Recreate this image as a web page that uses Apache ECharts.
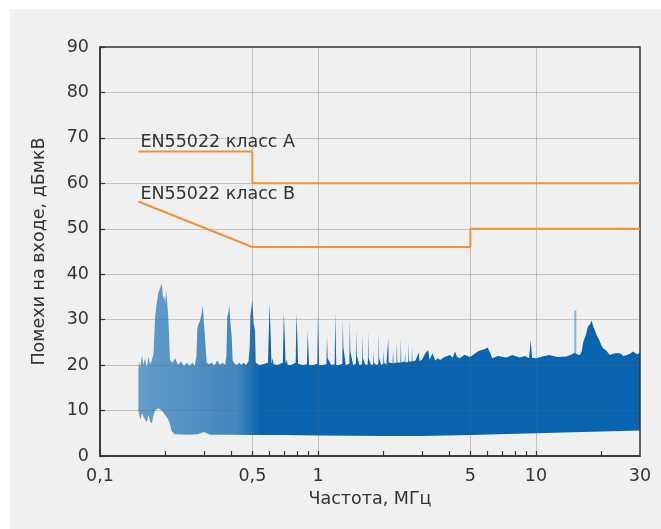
<!DOCTYPE html>
<html>
<head>
<meta charset="utf-8">
<script src="https://cdn.jsdelivr.net/npm/echarts@6/dist/echarts.min.js"></script>
<style>html,body{margin:0;padding:0;background:#fff}#c{width:661px;height:529px}</style>
</head>
<body>
<div id="c"></div>
<script>
// ---- data ----
const xTickLabels = [0.1, 0.5, 1, 5, 10, 30];
const xMinorTicks = [0.2, 0.3, 0.4, 0.5, 0.6, 0.7, 0.8, 0.9, 1, 2, 3, 4, 5, 6, 7, 8, 9, 10, 20];
const xGridValues = [0.5, 1, 5, 10];
const yGridValues = [10, 20, 30, 40, 50, 60, 70, 80];

const classAFreq = [0.15, 0.5, 0.5, 30];
const classALevel = [67, 67, 60, 60];
const classBFreq = [0.15, 0.5, 5, 5, 30];
const classBLevel = [56, 46, 46, 50, 50];

const noiseTopFreq = [
  0.150, 0.151, 0.153, 0.156, 0.158, 0.161, 0.164, 0.167, 0.170, 0.173, 0.176,
  0.179, 0.182, 0.185, 0.189, 0.192, 0.195, 0.197, 0.199, 0.201, 0.204, 0.206, 0.2095,
  0.215, 0.221, 0.228, 0.235, 0.243, 0.250, 0.258, 0.265, 0.272, 0.277,
  0.2795, 0.283, 0.287, 0.292, 0.296, 0.299, 0.303, 0.306, 0.309,
  0.317, 0.325, 0.335, 0.345, 0.355, 0.365, 0.375, 0.380,
  0.3836, 0.388, 0.392, 0.397, 0.402, 0.406,
  0.415, 0.425, 0.435, 0.445, 0.455, 0.468, 0.480,
  0.486, 0.490, 0.4995, 0.507, 0.514, 0.518,
  0.54, 0.57, 0.590, 0.597, 0.600, 0.605, 0.612, 0.620, 0.625,
  0.65, 0.690, 0.697, 0.703, 0.710, 0.720, 0.725,
  0.75, 0.790, 0.797, 0.803, 0.810,
  0.85, 0.890, 0.897, 0.903, 0.910,
  0.95, 0.993, 1.000, 1.007, 1.012,
  1.05, 1.093, 1.100, 1.107,
  1.15, 1.193, 1.200, 1.207, 1.213,
  1.25, 1.293, 1.300, 1.307,
  1.34, 1.393, 1.400, 1.407,
  1.45, 1.493, 1.500, 1.507,
  1.55, 1.593, 1.600, 1.607,
  1.65, 1.693, 1.700, 1.707,
  1.75, 1.793, 1.800, 1.807,
  1.85, 1.893, 1.900, 1.907,
  1.95, 1.993, 2.000, 2.01,
  2.06, 2.10, 2.11, 2.20, 2.21, 2.22, 2.29, 2.30, 2.31, 2.39, 2.40, 2.41,
  2.50, 2.51, 2.52, 2.59, 2.60, 2.61, 2.69, 2.70, 2.71,
  2.80, 2.90, 2.92, 3.00, 3.10, 3.20, 3.25, 3.35, 3.45, 3.55, 3.63,
  3.80, 4.03, 4.15, 4.25, 4.35, 4.48, 4.70, 4.98, 5.20, 5.40, 5.53, 5.80, 6.00,
  6.15, 6.30, 6.70, 7.30, 7.80, 8.40, 8.90, 9.30, 9.45, 9.60, 10.0,
  10.7, 11.5, 12.5, 13.8, 14.5, 15.0, 15.6, 15.9, 16.2, 16.5, 16.9, 17.3, 17.7,
  18.0, 18.3, 18.6, 19.0, 19.5, 19.9, 20.3, 21.0, 21.8, 23.0, 24.3, 25.2, 26.1,
  27.0, 27.9, 29.0, 30.0
];
const noiseTopLevel = [
  19.0, 21.0, 19.5, 22.2, 20.0, 21.5, 19.5, 21.8, 20.2, 21.1, 22.5,
  30.7, 33.5, 35.8, 37.0, 38.0, 34.5, 35.4, 33.5, 36.5, 33.0, 29.9, 21.1,
  20.5, 21.5, 20.0, 20.8, 19.8, 20.5, 19.8, 20.6, 19.8, 22.0,
  28.0, 29.0, 29.6, 31.0, 33.2, 30.0, 26.3, 23.0, 20.5,
  20.2, 20.6, 19.9, 21.0, 20.0, 20.5, 20.0, 22.0,
  30.7, 31.5, 33.2, 29.0, 26.3, 21.0,
  20.3, 20.0, 20.6, 20.0, 20.5, 20.0, 20.8,
  24.0, 31.0, 34.3, 29.0, 27.7, 20.5,
  20.0, 20.3, 20.5, 30.0, 33.8, 28.0, 20.3, 21.5, 20.2,
  20.0, 20.5, 31.5, 27.0, 20.3, 21.2, 20.1,
  20.0, 20.5, 31.5, 27.0, 20.3,
  20.0, 20.2, 27.4, 24.0, 20.0,
  20.0, 20.3, 31.4, 25.0, 20.0,
  20.0, 20.2, 26.6, 21.5,
  20.0, 20.2, 31.5, 25.0, 20.0,
  20.0, 20.3, 29.9, 24.0,
  20.0, 20.3, 30.1, 23.0,
  20.0, 20.3, 27.7, 22.0,
  20.0, 20.2, 26.6, 21.5,
  20.0, 20.2, 27.4, 21.5,
  20.0, 20.2, 23.3, 20.5,
  20.0, 20.2, 27.4, 21.5,
  20.0, 20.3, 23.3, 20.5,
  20.1, 25.9, 20.6, 20.4, 23.5, 20.4, 20.5, 25.2, 20.6, 20.6, 25.9, 20.6,
  20.8, 23.0, 20.6, 20.7, 25.2, 20.8, 20.8, 24.4, 20.8,
  21.0, 22.8, 20.9, 21.2, 22.5, 23.3, 21.2, 22.6, 21.0, 21.5, 21.1,
  21.8, 22.2, 21.6, 23.0, 21.8, 21.5, 22.3, 21.8, 22.4, 23.0, 23.2, 23.5, 23.9,
  22.8, 21.5, 22.0, 21.7, 22.2, 21.7, 22.0, 21.5, 25.5, 21.6, 21.5,
  21.9, 22.2, 21.8, 21.9, 22.3, 22.7, 22.3, 22.2, 23.0, 25.2, 26.5, 28.5, 29.0,
  29.8, 28.5, 27.7, 26.5, 25.5, 24.5, 23.7, 23.2, 22.2, 22.6, 22.6, 22.0, 22.2,
  22.5, 23.0, 22.4, 22.6
];

const noiseBottomFreq = [
  0.150, 0.153, 0.156, 0.158, 0.161, 0.164, 0.167, 0.170, 0.173, 0.176,
  0.179, 0.185, 0.192, 0.199, 0.206, 0.2095, 0.213, 0.22, 0.25, 0.28,
  0.30, 0.32, 0.40, 0.5, 0.7, 1.0, 2.0, 3.0, 5.0, 10.0, 20.0, 30.0
];
const noiseBottomLevel = [
  10.0, 8.0, 9.5, 8.7, 8.0, 7.5, 9.0, 7.5, 7.2, 9.0,
  10.0, 10.5, 10.0, 9.0, 8.0, 7.0, 5.5, 4.8, 4.7, 4.8,
  5.3, 4.7, 4.7, 4.6, 4.6, 4.5, 4.4, 4.4, 4.6, 5.0, 5.4, 5.6
];

const spikeFreq = [15.15, 15.15];
const spikeLevel = [22.0, 32.0];

// ---- chart ----
const FONT = 'DejaVu Sans';
const FS = 17.5;
const TXT = '#333333';
const ORANGE = '#f39137';
const chart = echarts.init(document.getElementById('c'), null, { renderer: 'canvas' });

const noiseData = noiseTopFreq.map((f, i) => [f, noiseTopLevel[i]]);

const option = {
  animation: false,
  backgroundColor: '#ffffff',
  textStyle: { fontFamily: FONT },
  grid: {
    left: 100, right: 21, top: 47, bottom: 73,
    show: true, z: 5, backgroundColor: 'transparent',
    borderColor: '#333', borderWidth: 1.5,
    outerBoundsMode: 'none'
  },
  xAxis: {
    type: 'log', logBase: 10, min: 0.1, max: 30, z: 6,
    axisLine: { show: true, onZero: false, lineStyle: { color: '#333', width: 1.5 } },
    axisTick: { show: true, inside: true, length: 5, customValues: xMinorTicks, lineStyle: { color: '#333', width: 1.2 } },
    axisLabel: {
      customValues: xTickLabels, color: TXT, fontSize: FS, margin: 11, fontFamily: FONT,
      formatter: v => String(v).replace('.', ',')
    },
    splitLine: { show: false },
    minorTick: { show: false },
    name: 'Частота, МГц', nameLocation: 'middle', nameGap: 34,
    nameTextStyle: { color: TXT, fontSize: FS, fontFamily: FONT }
  },
  yAxis: {
    type: 'value', min: 0, max: 90, interval: 10, z: 6,
    axisLine: { show: true, lineStyle: { color: '#333', width: 1.5 } },
    axisTick: { show: true, inside: true, length: 5, lineStyle: { color: '#333', width: 1.2 } },
    axisLabel: { color: TXT, fontSize: FS, margin: 11, fontFamily: FONT },
    splitLine: { show: false },
    name: 'Помехи на входе, дБмкВ', nameLocation: 'middle', nameGap: 52,
    nameTextStyle: { color: TXT, fontSize: FS, fontFamily: FONT }
  },
  series: [
    {
      type: 'custom', name: 'noise', z: 2, clip: true,
      data: noiseData,
      encode: { x: 0, y: 1 },
      renderItem: function (params, api) {
        if (params.dataIndex !== 0) return null;
        const pts = [];
        for (let i = 0; i < noiseTopFreq.length; i++) pts.push(api.coord([noiseTopFreq[i], noiseTopLevel[i]]));
        for (let i = noiseBottomFreq.length - 1; i >= 0; i--) pts.push(api.coord([noiseBottomFreq[i], noiseBottomLevel[i]]));
        const xa = api.coord([0.15, 10])[0];
        const xb = api.coord([0.55, 10])[0];
        return {
          type: 'polygon',
          shape: { points: pts },
          style: {
            fill: new echarts.graphic.LinearGradient(xa, 0, xb, 0, [
              { offset: 0, color: 'rgba(8,100,175,0.6)' },
              { offset: 0.8, color: 'rgba(8,100,175,0.75)' },
              { offset: 1, color: 'rgba(8,100,175,1)' }
            ], true)
          }
        };
      }
    },
    {
      type: 'line', name: 'spike', z: 2, showSymbol: false, silent: true,
      data: spikeFreq.map((f, i) => [f, spikeLevel[i]]),
      lineStyle: { color: 'rgba(8,100,175,0.45)', width: 2 }
    },
    {
      type: 'line', name: 'gridlines', z: 4, data: [], silent: true,
      markLine: {
        silent: true, symbol: 'none', label: { show: false }, animation: false,
        lineStyle: { type: 'solid', color: 'rgba(100,100,100,0.33)', width: 1 },
        data: xGridValues.map(v => ({ xAxis: v })).concat(yGridValues.map(v => ({ yAxis: v })))
      }
    },
    {
      type: 'line', name: 'EN55022 класс A', z: 7, showSymbol: false, silent: true,
      data: classAFreq.map((f, i) => [f, classALevel[i]]),
      lineStyle: { color: ORANGE, width: 2 }, itemStyle: { color: ORANGE }
    },
    {
      type: 'line', name: 'EN55022 класс B', z: 7, showSymbol: false, silent: true,
      data: classBFreq.map((f, i) => [f, classBLevel[i]]),
      lineStyle: { color: ORANGE, width: 2 }, itemStyle: { color: ORANGE }
    }
  ]
};
chart.setOption(option);

const pA = chart.convertToPixel({ gridIndex: 0 }, [classAFreq[0], classALevel[0]]);
const pB = chart.convertToPixel({ gridIndex: 0 }, [classBFreq[0], classBLevel[0]]);
chart.setOption({
  graphic: [
    { type: 'rect', z: -10, silent: true, shape: { x: 10, y: 9, width: 651, height: 520 }, style: { fill: '#f0f0f0' } },
    { type: 'text', z: 10, x: pA[0] + 2, y: pA[1] - 0.5,
      style: { text: 'EN55022 класс A', fill: TXT, font: FS + 'px "DejaVu Sans"', textVerticalAlign: 'bottom' } },
    { type: 'text', z: 10, x: pB[0] + 2, y: pB[1] + 1.5,
      style: { text: 'EN55022 класс B', fill: TXT, font: FS + 'px "DejaVu Sans"', textVerticalAlign: 'bottom' } }
  ]
});
</script>
</body>
</html>
